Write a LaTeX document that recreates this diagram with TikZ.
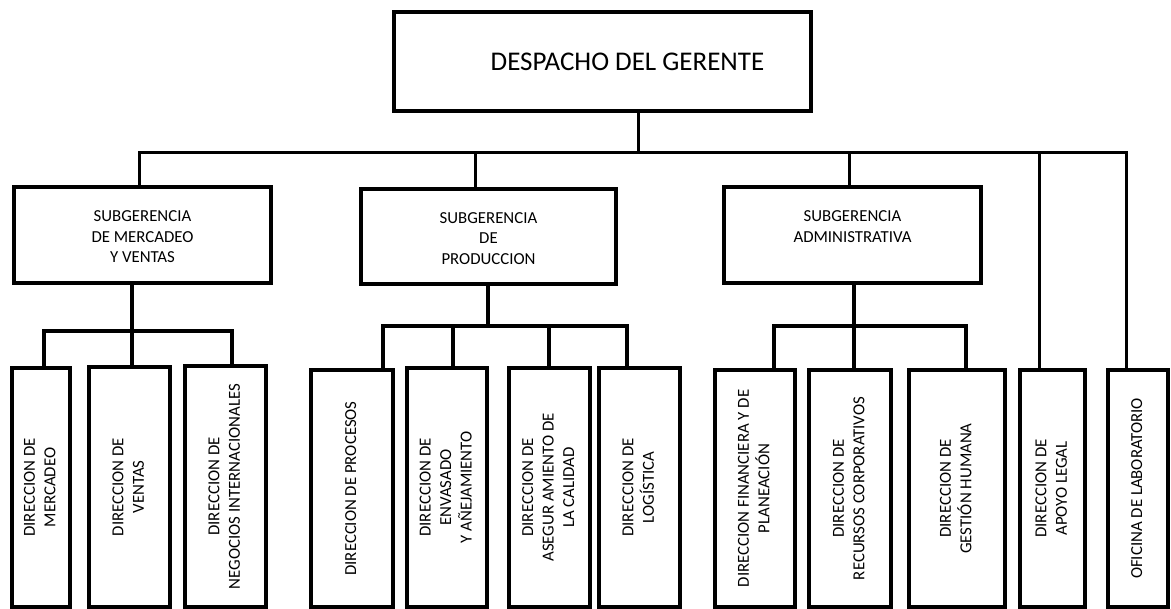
\documentclass[tikz,border=0pt]{standalone}
\usepackage{fontspec}
\setmainfont{Carlito}
\newcommand{\rot}[1]{\rotatebox{90}{\begin{tabular}{@{}c@{}}#1\end{tabular}}}
\begin{document}
\begin{tikzpicture}[x=1pt,y=-1pt,
  box/.style={draw, line width=4pt, inner sep=0pt, align=center},
  topbox/.style={box, font=\fontsize{27}{32}\selectfont},
  subbox/.style={box, font=\fontsize{16.8}{20.5}\selectfont},
  dirbox/.style={box, font=\fontsize{16.8}{20.5}\selectfont},
  conn/.style={line width=3pt},
  conntwo/.style={line width=3.6pt}]
\useasboundingbox (0,0) rectangle (1171,609);
% top
\node[topbox, minimum width=417pt, minimum height=99pt] (T) at (602.5,61.5) {\hspace*{50pt}DESPACHO DEL GERENTE};
% sub-managements
\node[subbox, minimum width=257pt, minimum height=96pt] (S1) at (142.5,235) {\strut SUBGERENCIA\\DE MERCADEO\\Y VENTAS};
\node[subbox, minimum width=255pt, minimum height=95pt] (S2) at (488.5,236.5) {\strut SUBGERENCIA\\DE\\PRODUCCION};
\node[subbox, minimum width=257pt, minimum height=96pt] (S3) at (852.5,235) {\strut SUBGERENCIA\\ADMINISTRATIVA\\[-6pt]\strut};
% directions
\node[dirbox, minimum width=58pt, minimum height=238pt] (A) at (41,487.5) {\rot{DIRECCION DE\\MERCADEO}};
\node[dirbox, minimum width=81pt, minimum height=239pt] (B) at (129.5,487) {\rot{DIRECCION DE\\VENTAS}};
\node[dirbox, minimum width=81pt, minimum height=240pt] (C) at (225.5,486.5) {\rot{DIRECCION DE\\NEGOCIOS INTERNACIONALES}};
\node[dirbox, minimum width=82pt, minimum height=237pt] (D) at (352,488.5) {\rot{DIRECCION DE PROCESOS}};
\node[dirbox, minimum width=80pt, minimum height=239pt] (E) at (447,487.5) {\rot{DIRECCION DE\\ENVASADO\\Y AÑEJAMIENTO}};
\node[dirbox, minimum width=81pt, minimum height=239pt] (F) at (549.5,487.5) {\rot{DIRECCION DE\\ASEGUR AMIENTO DE\\LA CALIDAD}};
\node[dirbox, minimum width=81pt, minimum height=239pt] (G) at (639.5,487.5) {\rot{DIRECCION DE\\LOGÍSTICA}};
\node[dirbox, minimum width=80pt, minimum height=237pt] (H) at (755,488.5) {\rot{DIRECCION FINANCIERA Y DE\\PLANEACIÓN}};
\node[dirbox, minimum width=82pt, minimum height=237pt] (I) at (850,488.5) {\rot{DIRECCION DE\\RECURSOS CORPORATIVOS}};
\node[dirbox, minimum width=96pt, minimum height=237pt] (J) at (957,488.5) {\rot{DIRECCION DE\\GESTIÓN HUMANA}};
\node[dirbox, minimum width=65pt, minimum height=237pt] (K) at (1052.5,488.5) {\rot{DIRECCION DE\\APOYO LEGAL}};
\node[dirbox, minimum width=60pt, minimum height=237pt] (L) at (1138,488.5) {\rot{OFICINA DE LABORATORIO}};
% top bus
\coordinate (tb) at (638,153);
\coordinate (d1) at (139,153);
\coordinate (d2) at (475,153);
\coordinate (d3) at (849,153);
\coordinate (d4) at (1039,153);
\coordinate (d5) at (1126,153);
\draw[conn] (T.south -| tb) -- (tb);
\draw[conn] (S1.north -| d1) -- (d1) -- (d5) -- (L.north -| d5);
\draw[conn] (d2) -- (S2.north -| d2);
\draw[conn] (d3) -- (S3.north -| d3);
\draw[conn] (d4) -- (K.north -| d4);
% bus 1
\coordinate (m0) at (132,331);
\coordinate (m1) at (44,331);
\coordinate (m3) at (232,331);
\draw[conntwo] (S1.south -| m0) -- (m0) -- (B.north -| m0);
\draw[conntwo] (A.north -| m1) -- (m1) -- (m3) -- (C.north -| m3);
% bus 2
\coordinate (p0) at (488,326);
\coordinate (p1) at (383,326);
\coordinate (p2) at (453,326);
\coordinate (p3) at (549,326);
\coordinate (p4) at (627,326);
\draw[conntwo] (S2.south -| p0) -- (p0);
\draw[conntwo] (D.north -| p1) -- (p1) -- (p4) -- (G.north -| p4);
\draw[conntwo] (p2) -- (E.north -| p2);
\draw[conntwo] (p3) -- (F.north -| p3);
% bus 3
\coordinate (q0) at (854,326);
\coordinate (q1) at (774,326);
\coordinate (q3) at (966,326);
\draw[conntwo] (S3.south -| q0) -- (q0) -- (I.north -| q0);
\draw[conntwo] (H.north -| q1) -- (q1) -- (q3) -- (J.north -| q3);
\end{tikzpicture}
\end{document}
